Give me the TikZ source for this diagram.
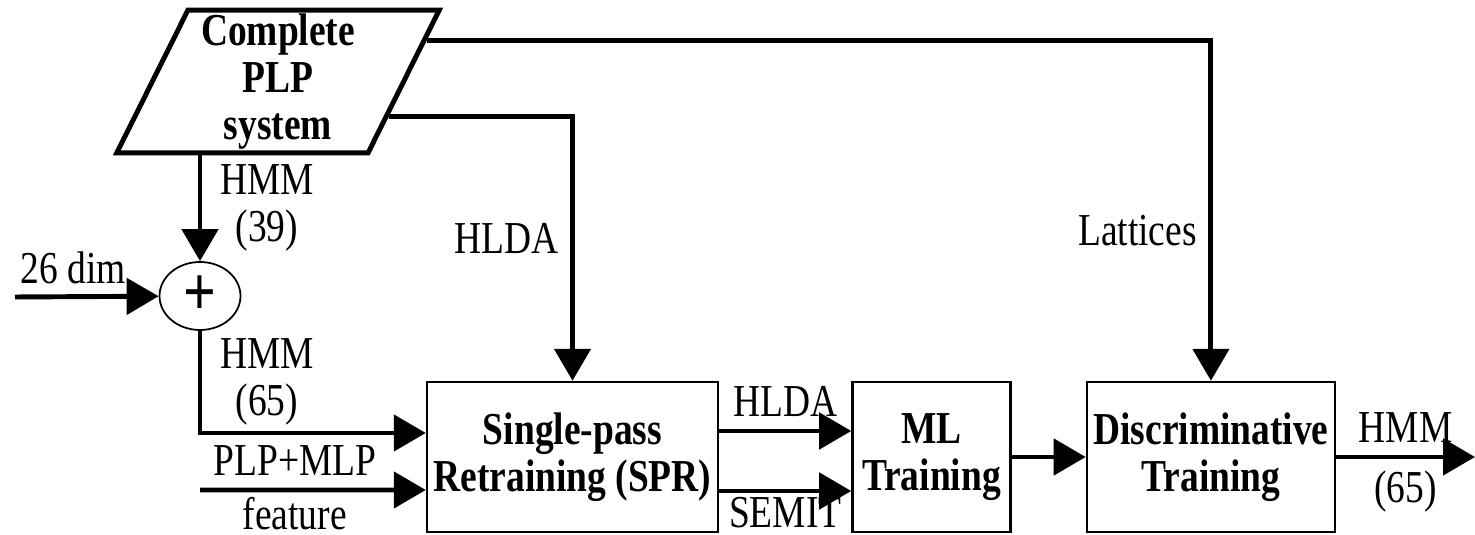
\documentclass[tikz,border=0pt]{standalone}
\usepackage{fontspec}
\setmainfont{Liberation Serif}[FakeStretch=0.82]
\usepackage{tikz}
\usetikzlibrary{shapes, arrows.meta, positioning, calc}
\newcommand{\diagfont}{\fontsize{13}{13.4}\selectfont}
\tikzset{%
>={Triangle[width=3.6mm,length=3.2mm]},
% Specifications for style of nodes:
base/.style = {draw, text centered, font=\diagfont\bfseries, inner sep=1pt},
process/.style = {base, rectangle, line width=0.7pt, minimum height=1.5cm},
data/.style = {base, trapezium, trapezium left angle=66, trapezium right angle=114, trapezium stretches=true, line width=1.4pt, minimum width=3.25cm, minimum height=1.39cm},
adder/.style = {base, ellipse, line width=0.5pt, minimum width=0.81cm, minimum height=0.68cm, font=\fontsize{20}{20}\selectfont\bfseries},
flow/.style = {->, line width=1.4pt},
}

\begin{document}
\begin{tikzpicture}[
        node distance=1cm,
        every node/.style={font=\diagfont},
        align=center
    ]
    \useasboundingbox (0,0) rectangle (14.75,-5.35);
    % Specification of nodes (position, etc.)
    \node (plp) [data] at (2.78,-0.815) {Complete\\PLP\\system};
    \node (sum) [adder] at (2.00,-2.96) {+};
    \node (spr) [process, minimum width=2.91cm] at (5.725,-4.57) {Single-pass\\Retraining (SPR)};
    \node (ml) [process, minimum width=1.58cm, right=1.32cm of spr] {ML\\Training};
    \node (disc) [process, minimum width=2.48cm, right=0.74cm of ml] {Discriminative\\Training};
    \coordinate (dimIn) at (0.15,-2.97);
    \coordinate (featIn) at (2.00,-4.90);
    \coordinate (hmmOut) at (14.75,-4.57);
    \coordinate (latticeOut) at ($(plp.top right corner)!0.22!(plp.bottom right corner)$);
    \coordinate (hldaOut) at ($(plp.top right corner)!0.74!(plp.bottom right corner)$);

    \draw [flow] (latticeOut) -| (disc) node[pos=0.78, left]{Lattices};
    \draw [flow] (hldaOut) -| (spr) node[pos=0.73, left]{HLDA};
    \draw [flow] (sum |- plp.south) -- (sum) node[midway, right, inner sep=5pt]{HMM\\(39)};
    \draw [flow] (dimIn) -- (sum) node[pos=0, anchor=south west, inner sep=1pt, yshift=2pt]{26 dim};
    \draw [flow] (sum) |- ([yshift=0.24cm]spr.west) node[pos=0.25, right, inner sep=5pt]{HMM\\(65)};
    \draw [flow] (featIn) -- ([yshift=-0.33cm]spr.west) node[pos=0.42, above]{PLP+MLP} node[pos=0.42, below, inner sep=1.5pt]{feature};
    \draw [flow] ([yshift=0.26cm]spr.east) -- ([yshift=0.26cm]ml.west) node[midway, above]{HLDA};
    \draw [flow] ([yshift=-0.34cm]spr.east) -- ([yshift=-0.34cm]ml.west) node[midway, below, inner sep=1pt]{SEMIT};
    \draw [flow] (ml) -- (disc);
    \draw [flow] (disc) -- (hmmOut) node[midway, above]{HMM} node[midway, below]{(65)};
\end{tikzpicture}
\end{document}
